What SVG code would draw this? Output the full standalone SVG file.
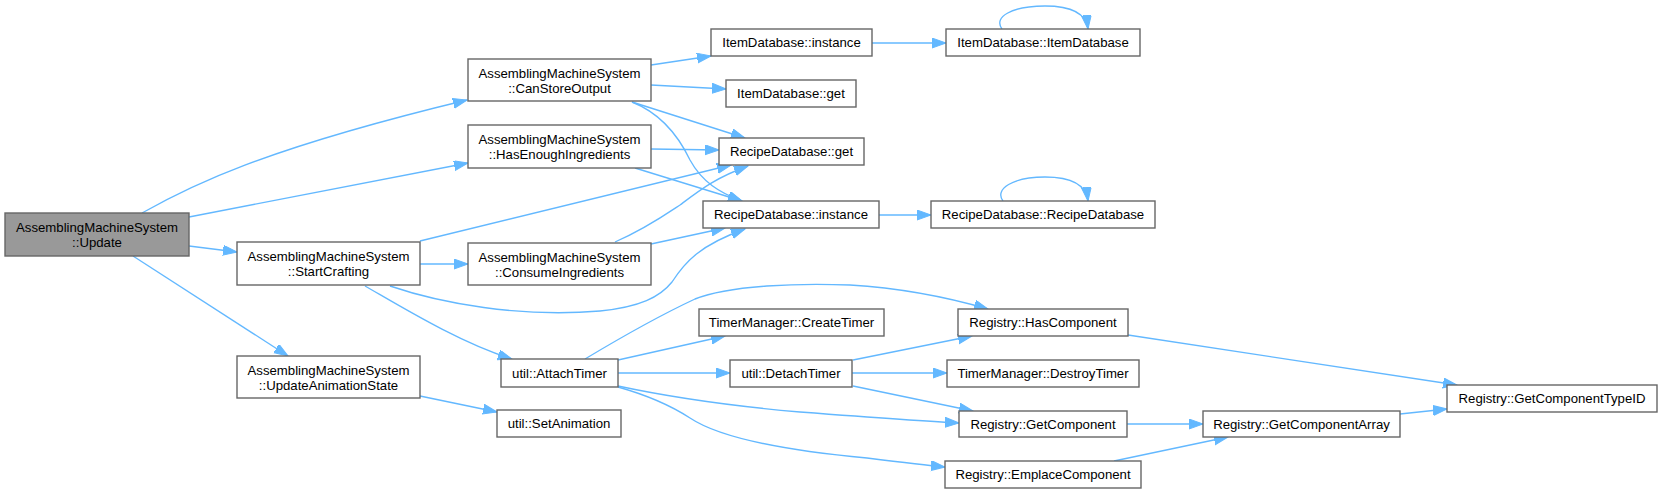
<svg xmlns="http://www.w3.org/2000/svg" width="1662" height="493" viewBox="0 0 1662 493">
<style>
.n rect{fill:#ffffff;stroke:#666666;stroke-width:1.4}
.n.root rect{fill:#999999}
.n text{font-family:"Liberation Sans",Arial,sans-serif;font-size:13.2px;fill:#000000;text-anchor:middle}
.e path{fill:none;stroke:#63b8ff;stroke-width:1.35;marker-end:url(#ah)}
</style>
<defs>
<marker id="ah" markerUnits="userSpaceOnUse" markerWidth="16" markerHeight="12" refX="14" refY="5" orient="auto">
<path d="M0,0 L14,5 L0,10 z" fill="#63b8ff" stroke="#63b8ff" stroke-width="1"/>
</marker>
</defs>
<rect width="1662" height="493" fill="#ffffff"/>
<g id="edges" class="e">
<path d="M142,213 C190,186 260,150 467,100"/>
<path d="M189,217 L468,163"/>
<path d="M189,246 L237,252"/>
<path d="M133,256 L288,356"/>
<path d="M651,65 L711,56"/>
<path d="M651,85 L726,89"/>
<path d="M632,102 L745,138"/>
<path d="M632,102 C660,113 678,135 690,160 C702,182 720,193 742,201"/>
<path d="M651,149 L719,150"/>
<path d="M635,168 L742,201"/>
<path d="M420,241 L731,165"/>
<path d="M420,264 L468,264"/>
<path d="M390,286 C440,303 520,318 600,311 C640,307 660,297 672,282 C685,262 700,245 745,229"/>
<path d="M365,286 C400,306 460,343 512,359"/>
<path d="M615,242 C645,229 665,215 680,205 C700,190 715,178 748,166"/>
<path d="M651,244 L725,228"/>
<path d="M872,43 L946,43"/>
<path d="M1002,29 C993,17 1012,6 1045,6 C1070,6 1086,12 1088,29"/>
<path d="M879,215 L931,215"/>
<path d="M1003,201 C994,189 1013,177 1045,177 C1070,177 1086,184 1088,201"/>
<path d="M420,396 L497,412"/>
<path d="M585,359 C620,338 665,313 695,299 C730,285 800,283 850,285 C900,288 950,298 988,309"/>
<path d="M618,360 L725,336"/>
<path d="M618,373 L730,373"/>
<path d="M618,386 C660,395 720,405 800,412 C880,418 920,421 959,423"/>
<path d="M618,387 C650,396 670,405 690,418 C720,438 780,450 867,458 C900,462 925,465 945,467"/>
<path d="M853,360 L972,336"/>
<path d="M852,373 L947,373"/>
<path d="M853,386 L973,411"/>
<path d="M1128,335 L1457,385"/>
<path d="M1127,424 L1203,424"/>
<path d="M1114,461 L1228,437"/>
<path d="M1400,414 L1447,409"/>
</g>
<g id="n0" class="n root"><rect x="5" y="213" width="184" height="43"/><text x="97" y="232">AssemblingMachineSystem</text><text x="97" y="247">::Update</text></g>
<g id="n1" class="n"><rect x="468" y="59" width="183" height="42"/><text x="559.5" y="78">AssemblingMachineSystem</text><text x="559.5" y="93">::CanStoreOutput</text></g>
<g id="n2" class="n"><rect x="468" y="125" width="183" height="43"/><text x="559.5" y="144">AssemblingMachineSystem</text><text x="559.5" y="159">::HasEnoughIngredients</text></g>
<g id="n3" class="n"><rect x="237" y="242" width="183" height="43"/><text x="328.5" y="261">AssemblingMachineSystem</text><text x="328.5" y="276">::StartCrafting</text></g>
<g id="n4" class="n"><rect x="468" y="243" width="183" height="42"/><text x="559.5" y="262">AssemblingMachineSystem</text><text x="559.5" y="277">::ConsumeIngredients</text></g>
<g id="n5" class="n"><rect x="237" y="356" width="183" height="42"/><text x="328.5" y="375">AssemblingMachineSystem</text><text x="328.5" y="390">::UpdateAnimationState</text></g>
<g id="n6" class="n"><rect x="711" y="29" width="161" height="27"/><text x="791.5" y="47">ItemDatabase::instance</text></g>
<g id="n7" class="n"><rect x="726" y="80" width="130" height="27"/><text x="791" y="98">ItemDatabase::get</text></g>
<g id="n8" class="n"><rect x="719" y="138" width="145" height="27"/><text x="791.5" y="156">RecipeDatabase::get</text></g>
<g id="n9" class="n"><rect x="703" y="201" width="176" height="27"/><text x="791" y="219">RecipeDatabase::instance</text></g>
<g id="n10" class="n"><rect x="946" y="29" width="194" height="27"/><text x="1043" y="47">ItemDatabase::ItemDatabase</text></g>
<g id="n11" class="n"><rect x="931" y="201" width="224" height="27"/><text x="1043" y="219">RecipeDatabase::RecipeDatabase</text></g>
<g id="n12" class="n"><rect x="501" y="359" width="117" height="28"/><text x="559.5" y="377.5">util::AttachTimer</text></g>
<g id="n13" class="n"><rect x="497" y="410" width="124" height="27"/><text x="559" y="428">util::SetAnimation</text></g>
<g id="n14" class="n"><rect x="699" y="309" width="185" height="27"/><text x="791.5" y="327">TimerManager::CreateTimer</text></g>
<g id="n15" class="n"><rect x="730" y="360" width="122" height="27"/><text x="791" y="378">util::DetachTimer</text></g>
<g id="n16" class="n"><rect x="958" y="309" width="170" height="27"/><text x="1043" y="327">Registry::HasComponent</text></g>
<g id="n17" class="n"><rect x="947" y="360" width="192" height="27"/><text x="1043" y="378">TimerManager::DestroyTimer</text></g>
<g id="n18" class="n"><rect x="959" y="411" width="168" height="26"/><text x="1043" y="428.5">Registry::GetComponent</text></g>
<g id="n19" class="n"><rect x="945" y="461" width="196" height="27"/><text x="1043" y="479">Registry::EmplaceComponent</text></g>
<g id="n20" class="n"><rect x="1203" y="411" width="197" height="26"/><text x="1301.5" y="428.5">Registry::GetComponentArray</text></g>
<g id="n21" class="n"><rect x="1447" y="385" width="210" height="27"/><text x="1552" y="403">Registry::GetComponentTypeID</text></g>
</svg>
